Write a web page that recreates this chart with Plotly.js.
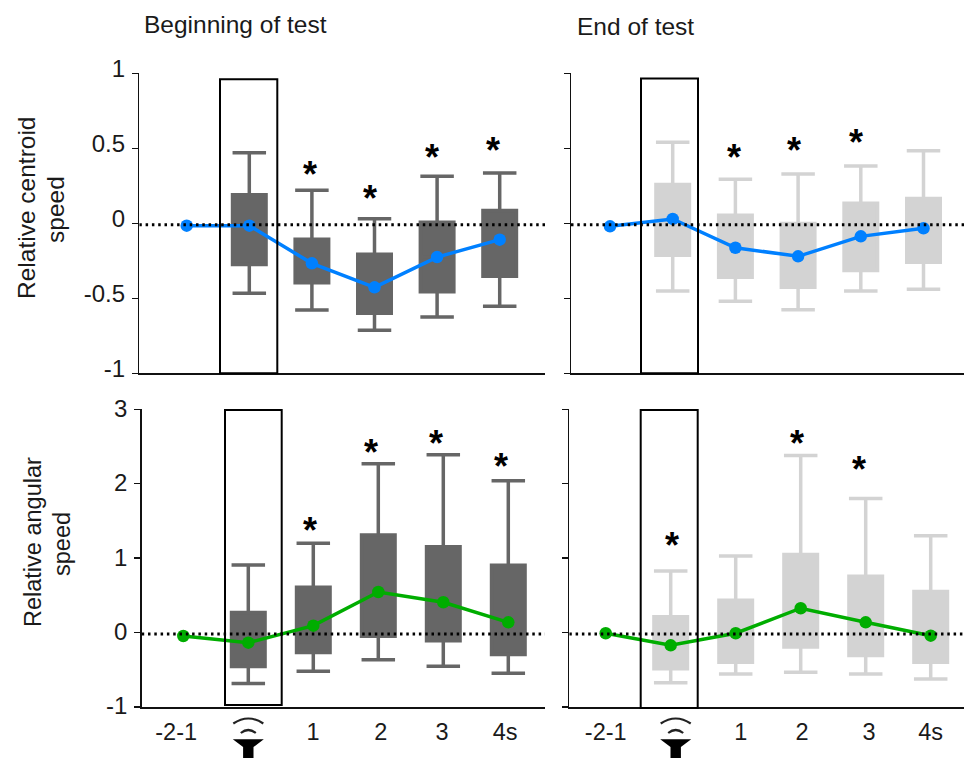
<!DOCTYPE html>
<html>
<head>
<meta charset="utf-8">
<script src="https://cdn.plot.ly/plotly-3.0.1.min.js"></script>
<style>html,body{margin:0;padding:0;background:#fff}</style>
</head>
<body>
<div id="chart" style="width:964px;height:758px"></div>
<script>
// ---------- data ----------
var boxPositions = [1, 2, 3, 4, 5];
var linePositions = [0, 1, 2, 3, 4, 5];

var tlUpper = [0.47, 0.22, 0.03, 0.314, 0.336];
var tlQ3 = [0.19, -0.106, -0.206, 0.007, 0.086];
var tlMedian = [-0.016, -0.267, -0.427, -0.225, -0.109];
var tlQ1 = [-0.275, -0.397, -0.599, -0.457, -0.353];
var tlLower = [-0.467, -0.578, -0.713, -0.625, -0.553];
var tlLine = [-0.016, -0.016, -0.267, -0.427, -0.225, -0.109];

var trUpper = [0.54, 0.293, 0.329, 0.382, 0.484];
var trQ3 = [0.259, 0.054, -0.001, 0.134, 0.165];
var trMedian = [0.029, -0.163, -0.22, -0.087, -0.033];
var trQ1 = [-0.213, -0.359, -0.426, -0.315, -0.259];
var trLower = [-0.451, -0.52, -0.576, -0.451, -0.44];
var trLine = [-0.02, 0.029, -0.163, -0.22, -0.087, -0.033];

var blUpper = [0.909, 1.2, 2.27, 2.39, 2.04];
var blQ3 = [0.27, 0.61, 1.31, 1.153, 0.906];
var blMedian = [-0.136, 0.093, 0.545, 0.407, 0.138];
var blQ1 = [-0.456, -0.268, -0.049, -0.11, -0.295];
var blLower = [-0.683, -0.52, -0.364, -0.453, -0.547];
var blLine = [-0.046, -0.136, 0.093, 0.545, 0.407, 0.138];

var brUpper = [0.827, 1.03, 2.38, 1.8, 1.3];
var brQ3 = [0.213, 0.433, 1.05, 0.758, 0.553];
var brMedian = [-0.171, -0.009, 0.327, 0.138, -0.042];
var brQ1 = [-0.487, -0.398, -0.194, -0.309, -0.398];
var brLower = [-0.674, -0.556, -0.532, -0.556, -0.624];
var brLine = [-0.009, -0.171, -0.009, 0.327, 0.138, -0.042];

var tlStarX = [1.97, 2.93, 3.92, 4.9], tlStarY = [0.351, 0.189, 0.462, 0.511];
var trStarX = [1.97, 2.93, 3.92], trStarY = [0.462, 0.511, 0.562];
var blStarX = [1.95, 2.88, 3.88, 4.88], blStarY = [1.423, 2.48, 2.6, 2.28];
var brStarX = [1.02, 2.95, 3.9], brStarY = [1.22, 2.6, 2.25];

var topTicks = [-1, -0.5, 0, 0.5, 1];
var topTickText = ['-1', '-0.5', '0', '0.5', '1'];
var bottomTicks = [-1, 0, 1, 2, 3];
var bottomTickText = ['-1', '0', '1', '2', '3'];
var xTickText = ['-2-1', '1', '2', '3', '4s'];
var blXTicks = [-0.11, 1.995, 3.04, 3.98, 4.95];
var brXTicks = [0, 2.08, 3.02, 4.05, 5];

var DARK = '#666666', LIGHT = '#d3d3d3', BLUE = '#0080ff', GREEN = '#00ad00';
var FONT = '"Liberation Sans", Arial, sans-serif', TEXT = '#1a1a1a';
var W = 964, H = 758;

// ---------- panels ----------
var panels = [
  {k:'', pxL:139.3, pxR:545, pxT:73.3, pxB:373.3, x0:186.7, step:62.6, range:[-1,1], box:DARK, line:BLUE,
   up:tlUpper,q3:tlQ3,med:tlMedian,q1:tlQ1,lo:tlLower,ln:tlLine,sx:tlStarX,sy:tlStarY,
   ticks:topTicks,tickText:topTickText,labels:true,zero:-0.01,rect:[220,277.3,79.3,373.3],shift:-5},
  {k:'2', pxL:571, pxR:964, pxT:73.3, pxB:373.3, x0:610, step:62.7, range:[-1,1], box:LIGHT, line:BLUE,
   up:trUpper,q3:trQ3,med:trMedian,q1:trQ1,lo:trLower,ln:trLine,sx:trStarX,sy:trStarY,
   ticks:topTicks,tickText:topTickText,labels:false,zero:-0.01,rect:[641,698,78.5,373.3],shift:0},
  {k:'3', pxL:141.7, pxR:545, pxT:409.3, pxB:707, x0:183.3, step:65, range:[-1,3], box:DARK, line:GREEN,
   up:blUpper,q3:blQ3,med:blMedian,q1:blQ1,lo:blLower,ln:blLine,sx:blStarX,sy:blStarY,
   ticks:bottomTicks,tickText:bottomTickText,labels:true,zero:-0.02,rect:[225,281.7,410,705],shift:-1,
   xt:blXTicks},
  {k:'4', pxL:569.3, pxR:964, pxT:409.3, pxB:707, x0:605.7, step:65, range:[-1,3], box:LIGHT, line:GREEN,
   up:brUpper,q3:brQ3,med:brMedian,q1:brQ1,lo:brLower,ln:brLine,sx:brStarX,sy:brStarY,
   ticks:bottomTicks,tickText:bottomTickText,labels:false,zero:-0.02,rect:[640.7,697.7,410,708],shift:0,
   xt:brXTicks}
];

var traces = [], shapes = [], annotations = [];
var layout = {width:W, height:H, autosize:false, margin:{l:0,r:0,t:0,b:0}, showlegend:false,
  paper_bgcolor:'#fff', plot_bgcolor:'rgba(0,0,0,0)', font:{family:FONT,color:TEXT}, hovermode:false};

panels.forEach(function(p){
  var xa = 'x'+p.k, ya = 'y'+p.k;
  var toX = function(px){ return (px-p.x0)/p.step; };
  layout['xaxis'+p.k] = {
    domain:[p.pxL/W, p.pxR/W], range:[toX(p.pxL), toX(p.pxR)], anchor:ya,
    showgrid:false, zeroline:false, showline:true, linecolor:'#111', linewidth:1.5, ticks:'',
    showticklabels:!!p.xt, tickmode:'array', tickvals:p.xt||[], ticktext:p.xt?xTickText:[],
    ticklabelstandoff:3,
    tickfont:{family:FONT,size:23.5,color:TEXT}
  };
  layout['yaxis'+p.k] = {
    domain:[1-p.pxB/H, 1-p.pxT/H], range:p.range, anchor:xa,
    showgrid:false, zeroline:false, showline:true, linecolor:'#111', linewidth:1.5,
    ticks:'outside', ticklen:6, tickwidth:1.5, tickcolor:'#111',
    tickmode:'array', tickvals:p.ticks, ticktext:p.tickText, showticklabels:p.labels,
    ticklabelshift:p.shift, ticklabelstandoff:2,
    tickfont:{family:FONT,size:24,color:TEXT}
  };
  traces.push({type:'box', xaxis:xa, yaxis:ya, x:boxPositions, q1:p.q1, median:p.med, q3:p.q3,
    lowerfence:p.lo, upperfence:p.up, width:33.5/p.step, whiskerwidth:1, boxpoints:false,
    fillcolor:p.box, line:{color:p.box,width:3.5}, hoverinfo:'skip'});
  traces.push({type:'scatter', mode:'lines+markers', xaxis:xa, yaxis:ya, x:linePositions, y:p.ln,
    line:{color:p.line,width:3.5}, marker:{color:p.line,size:12.5,symbol:'circle'}, hoverinfo:'skip'});
  shapes.push({type:'line', layer:'above', xref:'x'+p.k, yref:'y'+p.k, x0:toX(p.pxL), x1:toX(p.pxR), y0:p.zero, y1:p.zero,
    line:{color:'#000',width:3,dash:'2.5px,3.8px'}});
  shapes.push({type:'rect', layer:'above', xref:'paper', yref:'paper', x0:p.rect[0]/W, x1:p.rect[1]/W,
    y0:1-p.rect[3]/H, y1:1-p.rect[2]/H, line:{color:'#000',width:2}, fillcolor:'rgba(0,0,0,0)'});
  p.sx.forEach(function(sx,i){
    annotations.push({xref:xa, yref:ya, x:sx, y:p.sy[i], text:'<b>*</b>', showarrow:false, yshift:-4,
      font:{family:FONT,size:36,color:'#000'}});
  });
});

function pa(x,y){ return (x/W)+','+(1-y/H); }
function label(txt,x,y,angle,size){
  annotations.push({xref:'paper',yref:'paper',x:x/W,y:1-y/H,text:txt,showarrow:false,textangle:angle||0,
    xanchor:'center',yanchor:'middle',font:{family:FONT,size:size,color:TEXT}});
}
label('Beginning of test',235,24,0,24.5);
label('End of test',635.5,26,0,24.5);
label('Relative centroid',26,208,-90,24.5);
label('speed',55,210,-90,24.5);
label('Relative angular',33,542,-90,23.5);
label('speed',62,544,-90,23.5);

// speaker icon under the boxed interval
[248.3,675.7].forEach(function(c){
  shapes.push({type:'path',layer:'above',xref:'paper',yref:'paper',
    path:'M'+pa(c-15.5,739.3)+' L'+pa(c+15.5,739.3)+' L'+pa(c+5.2,747)+' L'+pa(c+5.2,758)+' L'+pa(c-5.2,758)+' L'+pa(c-5.2,747)+' Z',
    fillcolor:'#000',line:{width:0}});
  shapes.push({type:'path',layer:'above',xref:'paper',yref:'paper',
    path:'M'+pa(c-15,723.5)+' Q'+pa(c,713.5)+' '+pa(c+15,723.5),fillcolor:'rgba(0,0,0,0)',line:{color:'#222',width:2.2}});
  shapes.push({type:'path',layer:'above',xref:'paper',yref:'paper',
    path:'M'+pa(c-7.5,733)+' Q'+pa(c,727)+' '+pa(c+7.5,733),fillcolor:'rgba(0,0,0,0)',line:{color:'#222',width:2.2}});
});

layout.shapes = shapes;
layout.annotations = annotations;
Plotly.newPlot('chart', traces, layout, {displayModeBar:false, staticPlot:true});
</script>
</body>
</html>
